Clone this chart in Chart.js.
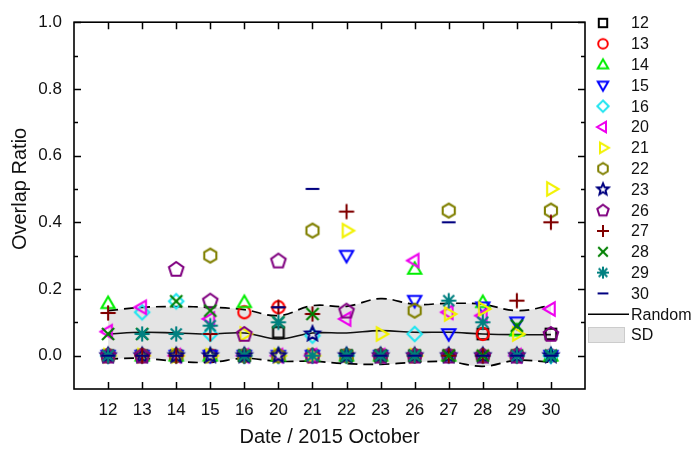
<!DOCTYPE html>
<html>
<head>
<meta charset="utf-8">
<script src="https://cdn.jsdelivr.net/npm/chart.js@4.4.1/dist/chart.umd.min.js"></script>
<style>
  html, body { margin: 0; padding: 0; background: #ffffff; }
  #wrap { width: 694px; height: 450px; position: relative; }
</style>
</head>
<body>
<div id="wrap"><canvas id="chart" width="694" height="450"></canvas></div>
<script>
// Sampling dates (day of October 2015)
const dates = ['12', '13', '14', '15', '16', '20', '21', '22', '23', '26', '27', '28', '29', '30'];

// Overlap ratio of each reference day against every sampling date
const s12 = [0, 0, 0, 0, 0, 0.07, 0, 0, 0, 0, 0, 0.065, 0, 0.065];
const s13 = [0, 0, 0, 0, 0.13, 0.145, 0, 0, 0, 0, 0, 0.065, 0, 0];
const s14 = [0.157, 0, 0, 0, 0.16, 0, 0, 0, 0, 0.26, 0, 0.16, 0.075, 0];
const s15 = [0, 0, 0, 0, 0, 0, 0, 0.30, 0, 0.165, 0.065, 0.145, 0.10, 0];
const s16 = [0, 0.13, 0.163, 0.065, 0, 0, 0.06, 0, 0, 0.065, 0, 0, 0, 0];
const s20 = [0.072, 0.145, 0, 0.11, 0, 0, 0, 0.11, 0, 0.285, 0.13, 0.12, 0, 0.14];
const s21 = [0, 0, 0, 0, 0.065, 0, 0, 0.375, 0.065, 0, 0.125, 0.14, 0.065, 0.50];
const s22 = [0, 0, 0, 0.30, 0, 0, 0.375, 0, 0, 0.135, 0.435, 0, 0, 0.435];
const s23 = [0, 0, 0, 0, 0, 0, 0.065, 0, 0, 0, 0, 0, 0, 0];
const s26 = [0, 0, 0.26, 0.165, 0.065, 0.285, 0, 0.135, 0, 0, 0, 0, 0, 0.065];
const s27 = [0.128, 0, 0, 0.065, 0, 0.145, 0.125, 0.432, 0, 0, 0, 0, 0.165, 0.40];
const s28 = [0.065, 0.065, 0.163, 0.135, 0, 0.10, 0.125, 0, 0, 0, 0, 0, 0.09, 0];
const s29 = [0, 0.065, 0.065, 0.09, 0, 0.10, 0, 0, 0, 0, 0.165, 0.10, 0, 0];
const s30 = [0, 0, 0, 0, 0, 0.145, 0.50, 0, 0, 0, 0.40, 0, 0, 0];

// Random-placement baseline and its standard deviation envelope
const randomMean = [0.065, 0.07, 0.068, 0.065, 0.068, 0.05, 0.068, 0.068, 0.075, 0.07, 0.07, 0.065, 0.063, 0.063];
const sdUpper = [0.135, 0.145, 0.147, 0.145, 0.138, 0.12, 0.15, 0.148, 0.171, 0.154, 0.157, 0.154, 0.135, 0.15];
const sdLower = [-0.01, -0.008, -0.017, -0.02, -0.008, -0.017, -0.017, -0.024, -0.026, -0.02, -0.018, -0.032, -0.014, -0.02];

const seriesNames = ['12', '13', '14', '15', '16', '20', '21', '22', '23', '26', '27', '28', '29', '30'];
const seriesValues = [s12, s13, s14, s15, s16, s20, s21, s22, s23, s26, s27, s28, s29, s30];
const seriesColors = ['#000000', '#ff0000', '#00ee00', '#0000ff', '#22e5f0', '#ee00ee', '#f2f200', '#808000',
                      '#000080', '#800080', '#800000', '#008000', '#008080', '#000080'];
const seriesMarkers = ['square', 'circle', 'triUp', 'triDown', 'diamond', 'triLeft', 'triRight', 'hexagon',
                       'star', 'pentagon', 'plus', 'cross', 'asterisk', 'dash'];

const FONT = '"Liberation Sans", Arial, sans-serif';

// Hollow marker drawn into a small canvas, used as a Chart.js point style
function makeMarker(kind, color, r, lw) {
  const pad = Math.ceil(lw) + 2;
  const size = Math.ceil(2 * r * 1.15 + 2 * pad);
  const cv = document.createElement('canvas');
  cv.width = size; cv.height = size;
  const g = cv.getContext('2d');
  const c = size / 2;
  g.strokeStyle = color;
  g.lineWidth = lw;
  g.lineJoin = 'miter';
  const poly = (n, rad, start, cy) => {
    g.beginPath();
    for (let i = 0; i < n; i++) {
      const a = start + i * 2 * Math.PI / n;
      const px = c + rad * Math.cos(a), py = (cy || c) + rad * Math.sin(a);
      if (i) g.lineTo(px, py); else g.moveTo(px, py);
    }
    g.closePath();
    g.stroke();
  };
  const seg = (x1, y1, x2, y2) => { g.beginPath(); g.moveTo(c + x1, c + y1); g.lineTo(c + x2, c + y2); g.stroke(); };
  switch (kind) {
    case 'square': { const a = r * 0.7; g.strokeRect(c - a, c - a, 2 * a, 2 * a); break; }
    case 'circle': g.beginPath(); g.arc(c, c, r * 0.8, 0, 2 * Math.PI); g.stroke(); break;
    case 'triUp': poly(3, r, -Math.PI / 2, c + r * 0.12); break;
    case 'triDown': poly(3, r, Math.PI / 2, c - r * 0.12); break;
    case 'triLeft': poly(3, r, Math.PI); break;
    case 'triRight': poly(3, r, 0); break;
    case 'diamond': poly(4, r * 0.95, -Math.PI / 2); break;
    case 'hexagon': poly(6, r * 0.92, -Math.PI / 2); break;
    case 'pentagon': poly(5, r * 1.0, -Math.PI / 2, c + r * 0.08); break;
    case 'star': {
      g.beginPath();
      for (let i = 0; i < 10; i++) {
        const rad = i % 2 ? r * 0.45 : r;
        const a = -Math.PI / 2 + i * Math.PI / 5;
        const px = c + rad * Math.cos(a), py = c + rad * Math.sin(a);
        if (i) g.lineTo(px, py); else g.moveTo(px, py);
      }
      g.closePath(); g.stroke(); break;
    }
    case 'plus': seg(-r, 0, r, 0); seg(0, -r, 0, r); break;
    case 'cross': { const d = r * 0.8; seg(-d, -d, d, d); seg(-d, d, d, -d); break; }
    case 'asterisk': { const d = r * 0.72; seg(-r, 0, r, 0); seg(0, -r, 0, r); seg(-d, -d, d, d); seg(-d, d, d, -d); break; }
    case 'dash': seg(-r * 0.9, 0, r * 0.9, 0); break;
  }
  return cv;
}

const chartMarkers = seriesMarkers.map((m, i) => makeMarker(m, seriesColors[i], 7.6, 2.1));
const legendMarkers = seriesMarkers.map((m, i) => makeMarker(m, seriesColors[i], 6, 2));

const toPoints = arr => arr.map((v, i) => ({ x: i, y: v }));

const datasets = [];
// Standard deviation band: upper edge filled down to the lower edge
datasets.push({
  label: 'SD upper', data: toPoints(sdUpper), showLine: true, fill: '+1',
  backgroundColor: '#e4e4e4', borderColor: '#000000', borderWidth: 1.7, borderDash: [10, 6],
  pointRadius: 0, tension: 0.4, order: 100
});
datasets.push({
  label: 'SD lower', data: toPoints(sdLower), showLine: true, fill: false,
  borderColor: '#000000', borderWidth: 1.7, borderDash: [10, 6],
  pointRadius: 0, tension: 0.4, order: 99
});
datasets.push({
  label: 'Random', data: toPoints(randomMean), showLine: true, fill: false,
  borderColor: '#111111', borderWidth: 1.6, pointRadius: 0, tension: 0.4, order: 98
});
seriesValues.forEach((vals, i) => {
  datasets.push({
    label: seriesNames[i], data: toPoints(vals), showLine: false,
    pointStyle: chartMarkers[i], pointRadius: 7, pointHoverRadius: 7,
    borderColor: seriesColors[i], backgroundColor: 'transparent', order: 50 - i
  });
});

// Box frame, inward tick marks, axis titles and the side legend
const decorations = {
  id: 'decorations',
  afterDraw(chart) {
    const { ctx, chartArea: a, scales } = chart;
    const xs = scales.x, ys = scales.y;
    ctx.save();
    ctx.strokeStyle = '#000000';
    ctx.lineWidth = 1.6;
    ctx.strokeRect(a.left, a.top, a.right - a.left, a.bottom - a.top);
    ctx.lineWidth = 1.5;
    ctx.beginPath();
    dates.forEach((d, i) => {
      const px = Math.round(xs.getPixelForValue(i)) + 0.5;
      ctx.moveTo(px, a.bottom); ctx.lineTo(px, a.bottom - 7);
      ctx.moveTo(px, a.top); ctx.lineTo(px, a.top + 7);
    });
    for (let k = 0; k <= 10; k++) {
      const py = Math.round(ys.getPixelForValue(k / 10)) + 0.5;
      const len = k % 2 === 0 ? 7 : 4;
      ctx.moveTo(a.left, py); ctx.lineTo(a.left + len, py);
      ctx.moveTo(a.right, py); ctx.lineTo(a.right - len, py);
    }
    ctx.stroke();

    // axis titles
    ctx.fillStyle = '#111111';
    ctx.font = '20px ' + FONT;
    ctx.textAlign = 'center';
    ctx.textBaseline = 'middle';
    ctx.fillText('Date / 2015 October', (a.left + a.right) / 2, 437);
    ctx.save();
    ctx.translate(20, (ys.getPixelForValue(0) + ys.getPixelForValue(1)) / 2);
    ctx.rotate(-Math.PI / 2);
    ctx.fillText('Overlap Ratio', 0, 0);
    ctx.restore();

    // legend
    const symX = 603, textX = 631, y0 = 23, step = 20.8;
    ctx.font = '16px ' + FONT;
    ctx.textAlign = 'left';
    seriesNames.forEach((name, i) => {
      const cy = y0 + i * step;
      const m = legendMarkers[i];
      ctx.drawImage(m, symX - m.width / 2, cy - m.height / 2);
      ctx.fillText(name, textX, cy + 1);
    });
    const yR = y0 + 14 * step, ySD = y0 + 15 * step;
    ctx.strokeStyle = '#000000';
    ctx.lineWidth = 1.6;
    ctx.beginPath(); ctx.moveTo(588, yR); ctx.lineTo(629, yR); ctx.stroke();
    ctx.fillText('Random', textX, yR + 1);
    ctx.fillStyle = '#e4e4e4';
    ctx.fillRect(588, ySD - 8, 37, 16);
    ctx.strokeStyle = '#cccccc';
    ctx.lineWidth = 1;
    ctx.strokeRect(588.5, ySD - 7.5, 36, 15);
    ctx.fillStyle = '#111111';
    ctx.fillText('SD', textX, ySD + 1);
    ctx.restore();
  }
};

new Chart(document.getElementById('chart'), {
  type: 'scatter',
  data: { datasets },
  options: {
    responsive: false,
    animation: false,
    events: [],
    layout: { padding: { top: 15, right: 109, left: 0, bottom: 0 } },
    plugins: { legend: { display: false }, tooltip: { enabled: false } },
    scales: {
      x: {
        type: 'linear', min: -1, max: 14,
        afterFit: s => { s.height = 61; },
        grid: { display: false, drawTicks: false },
        border: { display: false },
        ticks: {
          stepSize: 1, autoSkip: false, maxRotation: 0, padding: 11, color: '#111111',
          font: { family: FONT, size: 17 },
          callback: v => (Number.isInteger(v) && v >= 0 && v < dates.length) ? dates[v] : ''
        }
      },
      y: {
        type: 'linear', min: -0.1, max: 1.0,
        afterFit: s => { s.width = 74; },
        grid: { display: false, drawTicks: false },
        border: { display: false },
        ticks: {
          stepSize: 0.1, padding: 12, color: '#111111',
          font: { family: FONT, size: 17 },
          callback: v => { const k = Math.round(v * 10); return (k >= 0 && k % 2 === 0) ? (k / 10).toFixed(1) : ''; }
        }
      }
    }
  },
  plugins: [decorations]
});
</script>
</body>
</html>
